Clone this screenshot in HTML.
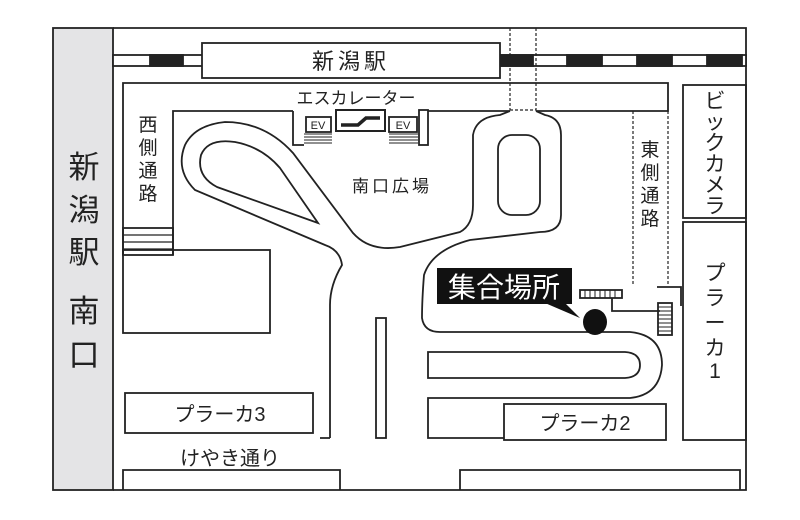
<!DOCTYPE html>
<html><head><meta charset="utf-8"><style>
html,body{margin:0;padding:0;background:#fff}
svg{display:block}
text{font-family:"Liberation Sans","Noto Sans CJK JP",sans-serif;fill:#222}
</style></head><body>
<svg width="800" height="520" viewBox="0 0 800 520" xmlns="http://www.w3.org/2000/svg">
<g fill="none" stroke="#222" stroke-width="1.8">
<rect x="53" y="28" width="60" height="462" fill="#e4e4e6"/>
<path d="M113,28 H746 V490 H113"/>
<rect x="113" y="55" width="633" height="11" fill="#fff"/>
<rect x="150" y="55" width="33" height="11" fill="#222"/>
<rect x="500" y="55" width="33" height="11" fill="#222"/>
<rect x="567" y="55" width="35" height="11" fill="#222"/>
<rect x="637" y="55" width="35" height="11" fill="#222"/>
<rect x="707" y="55" width="35" height="11" fill="#222"/>
<rect x="202" y="43" width="298" height="35" fill="#fff"/>
<path d="M510,28 V110 M536,28 V110 M633,111 V285 M668,111 V285 M510,110 H536" stroke-dasharray="3,2" stroke-width="1.2"/>
<path d="M123,255 V83 H668 V111 H536 M510,111 H428 M293,111 H173 V255"/>
<path d="M293,111 V145 H304"/>
<rect x="123" y="228" width="50" height="27"/>
<path d="M123,235 H173 M123,242 H173 M123,249 H173" stroke-width="1.2"/>
<rect x="306" y="117" width="25" height="15"/>
<rect x="389" y="117" width="28" height="15"/>
<rect x="336" y="110" width="49" height="21" stroke-width="2"/>
<path d="M341,125 H358 L366,118 H380" stroke-width="3.5"/>
<rect x="419" y="110" width="9" height="35"/>
<path d="M304,134 H332 M304,137 H332 M304,140 H332 M304,143 H332 M389,134 H418 M389,137 H418 M389,140 H418 M389,143 H418" stroke-width="1"/>
<path d="M330,438 H320 M330,438 V305 Q330,285 342,265 Q340,250 325,245 L195,190 Q175,170 185,145 Q195,125 225,122 Q265,122 293,153 L353,233 Q370,252 400,247 L460,232 Q473,225 473,205 V135 Q476,117 500,115 L510,111"/>
<path d="M318,223 L217,187 Q196,176 201,155 Q208,138 235,142 Q262,147 280,168 Z"/>
<path d="M536,111 L545,115 Q561,118 561,135 V215 Q561,232 540,232 L470,240 Q432,250 424,275 Q422,300 422,318 Q424,332 440,332 H630 Q662,335 662,365 Q660,395 630,398 H428 V438 H504"/>
<rect x="498" y="135" width="42" height="80" rx="14"/>
<path d="M428,352 H625 Q640,353 640,365 Q640,377 625,378 H428 Z"/>
<rect x="376" y="318" width="10" height="120"/>
<rect x="123" y="250" width="147" height="83"/>
<rect x="125" y="393" width="188" height="40"/>
<rect x="504" y="404" width="162" height="36"/>
<rect x="683" y="85" width="63" height="133"/>
<rect x="683" y="222" width="63" height="218"/>
<path d="M123,490 V470 H340 V490 M460,490 V470 H740 V490"/>
<rect x="580" y="290" width="42" height="8"/>
<path d="M585,290 V298 M590,290 V298 M595,290 V298 M600,290 V298 M605,290 V298 M610,290 V298 M615,290 V298" stroke-width="1"/>
<path d="M612,298 V311 H660 M657,287 H681 V306"/>
<rect x="658" y="303" width="14" height="32"/>
<path d="M658,307 H672 M658,311 H672 M658,315 H672 M658,319 H672 M658,323 H672 M658,327 H672 M658,331 H672" stroke-width="1"/>
</g>
<rect x="437" y="268" width="135" height="36" fill="#111"/>
<path d="M545,303 L580,318 L565,303 Z" fill="#111"/>
<ellipse cx="595" cy="322" rx="12" ry="13" fill="#111"/>
<text x="504" y="297" font-size="28" text-anchor="middle" style="fill:#fff">集合場所</text>
<text x="351" y="69" font-size="22" text-anchor="middle" letter-spacing="4">新潟駅</text>
<text x="356" y="104" font-size="17" text-anchor="middle">エスカレーター</text>
<text x="318" y="129" font-size="11" text-anchor="middle">EV</text>
<text x="403" y="129" font-size="11" text-anchor="middle">EV</text>
<text x="392" y="192" font-size="17" text-anchor="middle" letter-spacing="3">南口広場</text>
<text x="220" y="421" font-size="20" text-anchor="middle">プラーカ3</text>
<text x="585" y="430" font-size="20" text-anchor="middle">プラーカ2</text>
<text x="230" y="465" font-size="20" text-anchor="middle">けやき通り</text>
<g font-size="31" text-anchor="middle">
<text x="84" y="178">新</text><text x="84" y="221">潟</text><text x="84" y="263">駅</text>
<text x="84" y="322">南</text><text x="84" y="366">口</text>
</g>
<g font-size="19" text-anchor="middle">
<text x="148" y="131">西</text><text x="148" y="154">側</text><text x="148" y="177">通</text><text x="148" y="200">路</text>
<text x="650" y="156">東</text><text x="650" y="179">側</text><text x="650" y="202">通</text><text x="650" y="225">路</text>
</g>
<g font-size="21" text-anchor="middle">
<text x="715" y="108">ビ</text><text x="715" y="129">ッ</text><text x="715" y="150">ク</text><text x="715" y="171">カ</text><text x="715" y="192">メ</text><text x="715" y="213">ラ</text>
<text x="715" y="280">プ</text><text x="715" y="305">ラ</text><text x="715" y="330">ー</text><text x="715" y="355">カ</text><text x="715" y="378">1</text>
</g>
</svg>
</body></html>
